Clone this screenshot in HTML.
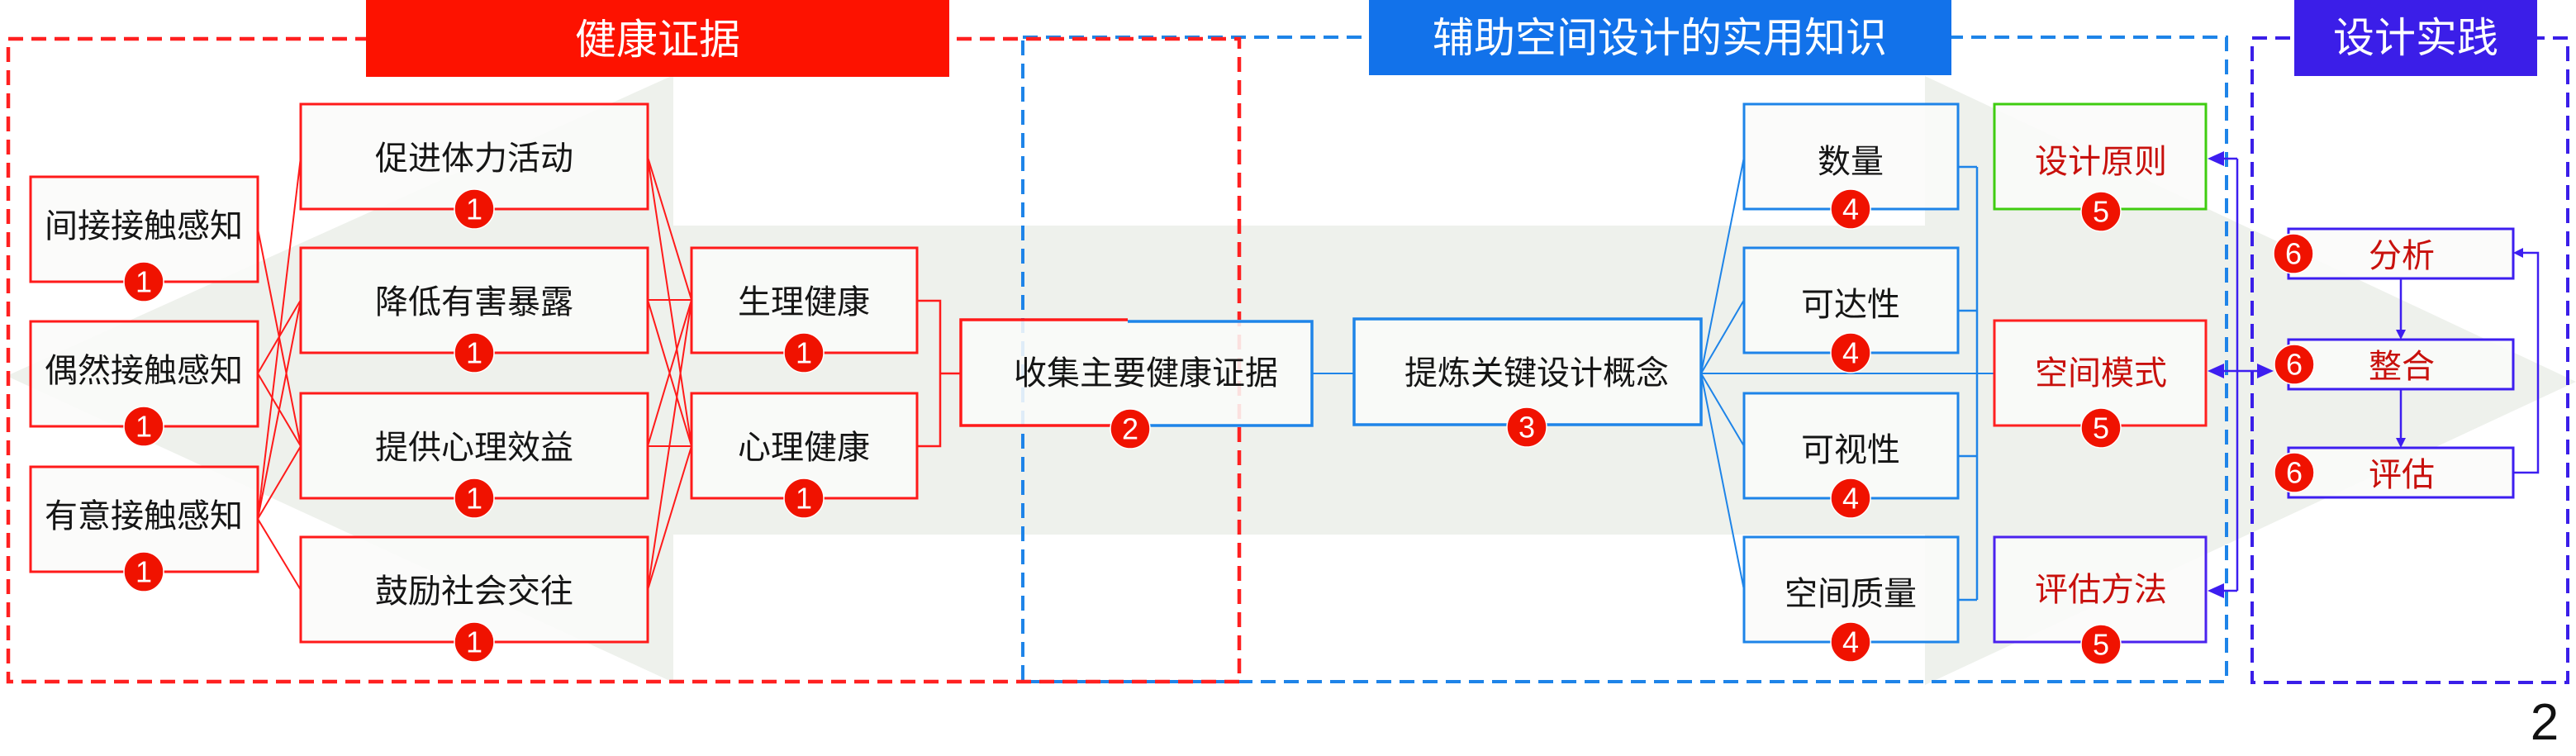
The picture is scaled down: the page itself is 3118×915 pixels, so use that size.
<!DOCTYPE html>
<html><head><meta charset="utf-8"><style>
html,body{margin:0;padding:0;background:#fff;}
svg{display:block;}
text{font-family:"Liberation Sans","Noto Sans CJK SC",sans-serif;}
</style></head><body>
<svg width="3118" height="915" viewBox="0 0 3118 915" xmlns="http://www.w3.org/2000/svg">
<rect width="3118" height="915" fill="#fff"/>
<polygon points="8,455 815,91 815,273 2330,273 2330,92 3118,462 2330,829 2330,647 815,647 815,826" fill="#eef1ec"/>

<!-- dashed group frames -->
<rect x="1238" y="45" width="1457" height="780" fill="none" stroke="#1e84e8" stroke-width="4" stroke-dasharray="18 10"/>
<rect x="10" y="47" width="1490" height="778" fill="none" stroke="#ff2020" stroke-width="4.5" stroke-dasharray="18 10"/>
<rect x="2726" y="46" width="382" height="780" fill="none" stroke="#3a1ee8" stroke-width="4" stroke-dasharray="18 10"/>

<!-- red connectors col1 -> col2 -->
<g stroke="#ff1a1a" stroke-width="2" fill="none">
<line x1="312" y1="277" x2="364" y2="540"/>
<line x1="312" y1="452" x2="364" y2="363"/>
<line x1="312" y1="452" x2="364" y2="540"/>
<line x1="312" y1="628" x2="364" y2="190"/>
<line x1="312" y1="628" x2="364" y2="363"/>
<line x1="312" y1="628" x2="364" y2="540"/>
<line x1="312" y1="628" x2="364" y2="714"/>
<!-- col2 -> col3 -->
<line x1="784" y1="190" x2="837" y2="363"/>
<line x1="784" y1="190" x2="837" y2="540"/>
<line x1="784" y1="363" x2="837" y2="363"/>
<line x1="784" y1="363" x2="837" y2="540"/>
<line x1="784" y1="540" x2="837" y2="363"/>
<line x1="784" y1="540" x2="837" y2="540"/>
<line x1="784" y1="714" x2="837" y2="363"/>
<line x1="784" y1="714" x2="837" y2="540"/>
<path d="M1110 364 H1138 V540 H1110 M1138 452 H1163" stroke-width="2.5"/>
</g>

<!-- blue connectors -->
<g stroke="#1e84e8" stroke-width="2" fill="none">
<path d="M1588 452 H1639"/>
<path d="M2059 452 L2111 190 M2059 452 L2111 363 M2059 452 L2111 540 M2059 452 L2111 714 M2059 452 H2414"/>
<path d="M2370 202 H2393 M2370 376 H2393 M2370 552 H2393 M2370 726 H2393 M2393 202 V726" stroke-width="2.5"/>
</g>

<!-- purple connectors -->
<g stroke="#3d1ef0" stroke-width="2.5" fill="none">
<path d="M2708 192 V715 M2708 192 H2688 M2708 715 H2688 M2688 449 H2736"/>
<path d="M2906 337 V403 M2906 471 V534"/>
<path d="M3042 572 H3072 V306 H3052"/>
</g>
<g fill="#3d1ef0">
<polygon points="2672,192 2692,183 2692,201"/>
<polygon points="2672,715 2692,706 2692,724"/>
<polygon points="2672,449 2692,440 2692,458"/>
<polygon points="2752,449 2732,440 2732,458"/>
<polygon points="2906,411 2900,399 2912,399"/>
<polygon points="2906,542 2900,530 2912,530"/>
<polygon points="3042,306 3054,300 3054,312"/>
</g>

<!-- boxes -->
<g fill="#fafbf9" fill-opacity="0.88" stroke-width="3">
<g stroke="#ff1a1a">
<rect x="37" y="214" width="275" height="127"/>
<rect x="37" y="389" width="275" height="127"/>
<rect x="37" y="565" width="275" height="127"/>
<rect x="364" y="126" width="420" height="127"/>
<rect x="364" y="300" width="420" height="127"/>
<rect x="364" y="476" width="420" height="127"/>
<rect x="364" y="650" width="420" height="127"/>
<rect x="837" y="300" width="273" height="127"/>
<rect x="837" y="476" width="273" height="127"/>
</g>
<rect x="1163" y="387" width="425" height="128" stroke="none"/>
<g stroke="#1e84e8" stroke-width="3.5">
<rect x="1639" y="386" width="420" height="128"/>
<rect x="2111" y="126" width="259" height="127" stroke-width="3"/>
<rect x="2111" y="300" width="259" height="127" stroke-width="3"/>
<rect x="2111" y="476" width="259" height="127" stroke-width="3"/>
<rect x="2111" y="650" width="259" height="127" stroke-width="3"/>
</g>
<rect x="2414" y="126" width="256" height="127" stroke="#3fcc10"/>
<rect x="2414" y="388" width="256" height="127" stroke="#ff2020"/>
<rect x="2414" y="650" width="256" height="127" stroke="#4a22ee"/>
<g stroke="#3d1ef0">
<rect x="2770" y="277" width="272" height="60"/>
<rect x="2770" y="411" width="272" height="60"/>
<rect x="2770" y="542" width="272" height="60"/>
</g>
</g>
<!-- split border of 收集 box -->
<path d="M1365 387 H1163 V515 H1368" fill="none" stroke="#ff1a1a" stroke-width="3.5"/>
<path d="M1365 389 H1588 V515 H1368" fill="none" stroke="#1e84e8" stroke-width="3.5"/>

<!-- title boxes -->
<rect x="443" y="0" width="706" height="93" fill="#fd1200"/>
<rect x="1657" y="0" width="705" height="91" fill="#1272ea"/>
<rect x="2777" y="0" width="294" height="92" fill="#3b1ee8"/>
<g fill="#fff" font-size="50" text-anchor="middle" dominant-baseline="central">
<text x="796" y="48">健康证据</text>
<text x="2009" y="46">辅助空间设计的实用知识</text>
<text x="2924" y="46">设计实践</text>
</g>

<!-- box labels -->
<g font-size="40" text-anchor="middle" dominant-baseline="central" fill="#151515">
<text x="174" y="274">间接接触感知</text>
<text x="174" y="449">偶然接触感知</text>
<text x="174" y="625">有意接触感知</text>
<text x="574" y="192">促进体力活动</text>
<text x="574" y="366">降低有害暴露</text>
<text x="574" y="542">提供心理效益</text>
<text x="574" y="716">鼓励社会交往</text>
<text x="973" y="366">生理健康</text>
<text x="973" y="542">心理健康</text>
<text x="1387" y="452">收集主要健康证据</text>
<text x="1860" y="452">提炼关键设计概念</text>
<text x="2240" y="196">数量</text>
<text x="2240" y="369">可达性</text>
<text x="2240" y="545">可视性</text>
<text x="2240" y="719">空间质量</text>
</g>
<g font-size="40" text-anchor="middle" dominant-baseline="central" fill="#c8100c">
<text x="2543" y="196">设计原则</text>
<text x="2543" y="452">空间模式</text>
<text x="2543" y="714">评估方法</text>
<text x="2907" y="310">分析</text>
<text x="2907" y="444">整合</text>
<text x="2907" y="575">评估</text>
</g>

<!-- badges -->
<g fill="#f01200" stroke="#fff" stroke-width="1.5">
<circle cx="174" cy="341" r="24"/>
<circle cx="174" cy="516" r="24"/>
<circle cx="174" cy="692" r="24"/>
<circle cx="574" cy="253" r="24"/>
<circle cx="574" cy="427" r="24"/>
<circle cx="574" cy="603" r="24"/>
<circle cx="574" cy="777" r="24"/>
<circle cx="973" cy="427" r="24"/>
<circle cx="973" cy="603" r="24"/>
<circle cx="1368" cy="519" r="24"/>
<circle cx="1848" cy="517" r="24"/>
<circle cx="2240" cy="253" r="24"/>
<circle cx="2240" cy="427" r="24"/>
<circle cx="2240" cy="603" r="24"/>
<circle cx="2240" cy="777" r="24"/>
<circle cx="2543" cy="256" r="24"/>
<circle cx="2543" cy="518" r="24"/>
<circle cx="2543" cy="780" r="24"/>
<circle cx="2776" cy="307" r="24"/>
<circle cx="2777" cy="441" r="24"/>
<circle cx="2777" cy="572" r="24"/>
</g>
<g fill="#fff" font-size="36" text-anchor="middle" dominant-baseline="central">
<text x="174" y="341">1</text>
<text x="174" y="516">1</text>
<text x="174" y="692">1</text>
<text x="574" y="253">1</text>
<text x="574" y="427">1</text>
<text x="574" y="603">1</text>
<text x="574" y="777">1</text>
<text x="973" y="427">1</text>
<text x="973" y="603">1</text>
<text x="1368" y="519">2</text>
<text x="1848" y="517">3</text>
<text x="2240" y="253">4</text>
<text x="2240" y="427">4</text>
<text x="2240" y="603">4</text>
<text x="2240" y="777">4</text>
<text x="2543" y="256">5</text>
<text x="2543" y="518">5</text>
<text x="2543" y="780">5</text>
<text x="2776" y="307">6</text>
<text x="2777" y="441">6</text>
<text x="2777" y="572">6</text>
</g>

<text x="3080" y="895" font-size="62" text-anchor="middle" fill="#111">2</text>
</svg>
</body></html>
